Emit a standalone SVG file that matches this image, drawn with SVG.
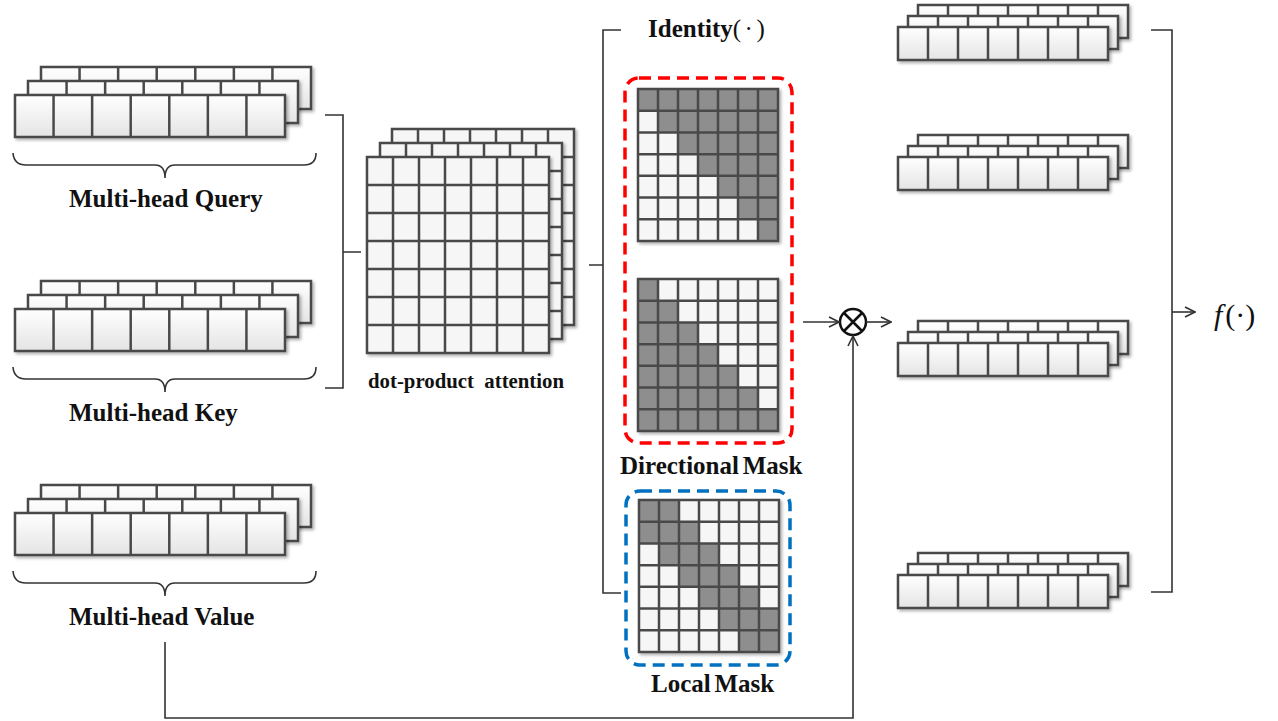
<svg xmlns="http://www.w3.org/2000/svg" xmlns:xlink="http://www.w3.org/1999/xlink" width="1278" height="721" viewBox="0 0 1278 721">
<style>
.cell{fill:url(#cellg);stroke:#4a4a4a;stroke-width:2.5}
.mcell{fill:#f6f6f6;stroke:#4a4a4a;stroke-width:2.5}
.gl{fill:none;stroke:#4a4a4a;stroke-width:2.5}
.dark{fill:#8e8e8e}
.light{fill:#f6f6f6}
.conn{fill:none;stroke:#333;stroke-width:1.6}
.lbl{font-family:"Liberation Serif","Times New Roman",serif;font-weight:bold;fill:#111}
.math{font-family:"Liberation Serif","Times New Roman",serif;fill:#111}
</style>
<defs>
<linearGradient id="cellg" x1="0" y1="0" x2="0" y2="1"><stop offset="0" stop-color="#ffffff"/><stop offset="1" stop-color="#e4e4e4"/></linearGradient>
<filter id="sh" x="-10%" y="-10%" width="130%" height="140%"><feDropShadow dx="2" dy="2" stdDeviation="1.5" flood-color="#000" flood-opacity="0.3"/></filter>
<marker id="arr" viewBox="0 0 12 12" refX="11" refY="6" markerWidth="12" markerHeight="12" markerUnits="userSpaceOnUse" orient="auto"><path d="M1,1 L11,6 L1,11" fill="none" stroke="#333" stroke-width="1.6"/></marker>
<g id="lrow" filter="url(#sh)"><rect class="cell" x="0" y="0" width="270" height="42"/><path class="gl" d="M38.57,0V42M77.14,0V42M115.71,0V42M154.29,0V42M192.86,0V42M231.43,0V42"/></g>
<g id="rrow" filter="url(#sh)"><rect class="cell" x="0" y="0" width="210" height="33"/><path class="gl" d="M30,0V33M60,0V33M90,0V33M120,0V33M150,0V33M180,0V33"/></g>
<g id="mat" filter="url(#sh)"><rect class="mcell" x="0" y="0" width="182" height="196"/><path class="gl" d="M26,0V196M52,0V196M78,0V196M104,0V196M130,0V196M156,0V196M0,28H182M0,56H182M0,84H182M0,112H182M0,140H182M0,168H182"/></g>
<path id="mgrid" class="gl" d="M0,0H140V152H0Z M20,0V152M40,0V152M60,0V152M80,0V152M100,0V152M120,0V152M0,21.714H140M0,43.429H140M0,65.143H140M0,86.857H140M0,108.571H140M0,130.286H140"/>
</defs>
<rect width="1278" height="721" fill="#ffffff"/>

<g id="query">
<use xlink:href="#lrow" x="41" y="67"/><use xlink:href="#lrow" x="28" y="81"/><use xlink:href="#lrow" x="15" y="95"/>
<path class="conn" d="M13,153 Q14,165 26,165 H155 Q165,165 165,178 Q165,165 175,165 H304 Q316,165 316,153"/>
<text class="lbl" x="69" y="207" font-size="25">Multi-head Query</text>
</g>
<g id="key">
<use xlink:href="#lrow" x="41" y="281"/><use xlink:href="#lrow" x="28" y="295"/><use xlink:href="#lrow" x="15" y="309"/>
<path class="conn" d="M13,367 Q14,379 26,379 H155 Q165,379 165,392 Q165,379 175,379 H304 Q316,379 316,367"/>
<text class="lbl" x="69" y="421" font-size="25">Multi-head Key</text>
</g>
<g id="value">
<use xlink:href="#lrow" x="41" y="485"/><use xlink:href="#lrow" x="28" y="499"/><use xlink:href="#lrow" x="15" y="513"/>
<path class="conn" d="M13,571 Q14,583 26,583 H155 Q165,583 165,596 Q165,583 175,583 H304 Q316,583 316,571"/>
<text class="lbl" x="69" y="625" font-size="25">Multi-head Value</text>
</g>

<g id="attention">
<use xlink:href="#mat" x="392" y="129"/><use xlink:href="#mat" x="380" y="143"/><use xlink:href="#mat" x="367" y="157"/>
<text class="lbl" x="368" y="388" font-size="20.8" xml:space="preserve">dot-product  attention</text>
</g>

<g id="identity">
<text x="648" y="37" font-size="25"><tspan class="lbl">Identity</tspan><tspan class="math" letter-spacing="3.5">(·)</tspan></text>
</g>

<g id="directional-mask">
<rect x="625" y="78" width="167" height="365" rx="14" fill="none" stroke="#ff0000" stroke-width="3.5" stroke-dasharray="12 7"/>
<g transform="translate(638,89)" filter="url(#sh)">
<rect class="light" x="0" y="0" width="140" height="152"/>
<polygon class="dark" points="0,0 140,0 140,152 120,152 120,130.286 100,130.286 100,108.571 80,108.571 80,86.857 60,86.857 60,65.143 40,65.143 40,43.429 20,43.429 20,21.714 0,21.714"/>
<use xlink:href="#mgrid"/>
</g>
<g transform="translate(638,279)" filter="url(#sh)">
<rect class="light" x="0" y="0" width="140" height="152"/>
<polygon class="dark" points="0,0 20,0 20,21.714 40,21.714 40,43.429 60,43.429 60,65.143 80,65.143 80,86.857 100,86.857 100,108.571 120,108.571 120,130.286 140,130.286 140,152 0,152"/>
<use xlink:href="#mgrid"/>
</g>
<text class="lbl" x="620" y="474" font-size="25" word-spacing="-2.5">Directional Mask</text>
</g>

<g id="local-mask">
<rect x="626" y="491" width="164" height="174" rx="14" fill="none" stroke="#0070c0" stroke-width="3.5" stroke-dasharray="12 7"/>
<g transform="translate(639,500)" filter="url(#sh)">
<rect class="light" x="0" y="0" width="140" height="152"/>
<polygon class="dark" points="0,0 40,0 40,21.714 60,21.714 60,43.429 80,43.429 80,65.143 100,65.143 100,86.857 120,86.857 120,108.571 140,108.571 140,152 100,152 100,130.286 80,130.286 80,108.571 60,108.571 60,86.857 40,86.857 40,65.143 20,65.143 20,43.429 0,43.429"/>
<use xlink:href="#mgrid"/>
</g>
<text class="lbl" x="651" y="692" font-size="25" word-spacing="-2.5">Local Mask</text>
</g>

<g id="multiply">
<circle cx="853" cy="322" r="13" fill="#fff" stroke="#111" stroke-width="2.5"/>
<path d="M844,313 L862,331 M862,313 L844,331" stroke="#111" stroke-width="2.5"/>
</g>

<g id="outputs">
<use xlink:href="#rrow" x="918" y="5"/><use xlink:href="#rrow" x="908" y="16"/><use xlink:href="#rrow" x="898" y="27"/>
<use xlink:href="#rrow" x="918" y="135"/><use xlink:href="#rrow" x="908" y="146"/><use xlink:href="#rrow" x="898" y="157"/>
<use xlink:href="#rrow" x="918" y="321"/><use xlink:href="#rrow" x="908" y="332"/><use xlink:href="#rrow" x="898" y="343"/>
<use xlink:href="#rrow" x="918" y="553"/><use xlink:href="#rrow" x="908" y="564"/><use xlink:href="#rrow" x="898" y="575"/>
</g>

<g id="f-label">
<text class="math" x="1214" y="325" font-size="30"><tspan font-style="italic">f</tspan><tspan dx="3">(·)</tspan></text>
</g>

<g id="connectors">
<path class="conn" d="M325,115 H343 V388 H325 M343,252 H361"/>
<path class="conn" d="M589,265 H603 M621,30 H603 V593 H621"/>
<path class="conn" d="M803,322 H839" marker-end="url(#arr)"/>
<path class="conn" d="M866,322 H891" marker-end="url(#arr)"/>
<path class="conn" d="M165,642 V718 H853 V336" marker-end="url(#arr)"/>
<path class="conn" d="M1151,30 H1172 V592 H1151"/>
<path class="conn" d="M1172,312 H1195" marker-end="url(#arr)"/>
</g>
</svg>
